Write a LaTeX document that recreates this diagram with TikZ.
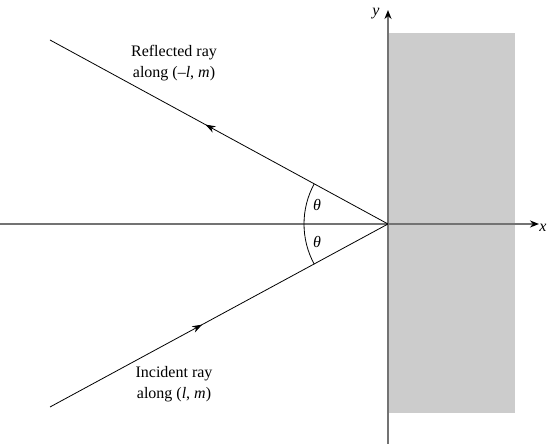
\documentclass[tikz,border=0pt]{standalone}
\usepackage{fontspec}
\setmainfont{Liberation Serif}
\usetikzlibrary{arrows.meta,decorations.markings}
\begin{document}
\begin{tikzpicture}[x=1pt,y=1pt,
  axis/.style={draw=black!55,line width=1.6pt,-{Stealth[length=9pt,width=7pt,black]}},
  ray/.style={draw=black,line width=0.8pt},
  midarrow/.style={postaction={decorate},decoration={markings,mark=at position #1 with {\arrow{Stealth[length=10pt,width=7pt]}}}},
  lbl/.style={font=\fontsize{16}{21}\selectfont,align=center,inner sep=0pt}]
\useasboundingbox (0,0) rectangle (547,446);
\coordinate (O) at (388,222);
\coordinate (R) at (50,406);
\coordinate (I) at (50,39);
\coordinate (xs) at (0,222);
\coordinate (xe) at (539,222);
\coordinate (ys) at (388,2);
\coordinate (ye) at (388,436);
\fill[black!20] (388,33) rectangle (515,413);
\draw[axis] (xs) -- (xe);
\draw[axis] (ys) -- (ye);
\draw[ray,midarrow=0.54] (O) -- (R);
\draw[ray,midarrow=0.45] (I) -- (O);
\draw[ray] ([shift={(O)}]151.4:84) arc[start angle=151.4,end angle=208.6,radius=84];
\node[lbl] (t1) at (317,241) {\textit{θ}};
\node[lbl] (t2) at (317,204) {\textit{θ}};
\node[lbl] (refl) at (174,383) {Reflected ray\\along (–\textit{l}, \textit{m})};
\node[lbl] (inc) at (174,62) {Incident ray\\along (\textit{l}, \textit{m})};
\node[lbl] (ylab) at (376,432) {\textit{y}};
\node[lbl] (xlab) at (543,218) {\textit{x}};
\end{tikzpicture}
\end{document}
